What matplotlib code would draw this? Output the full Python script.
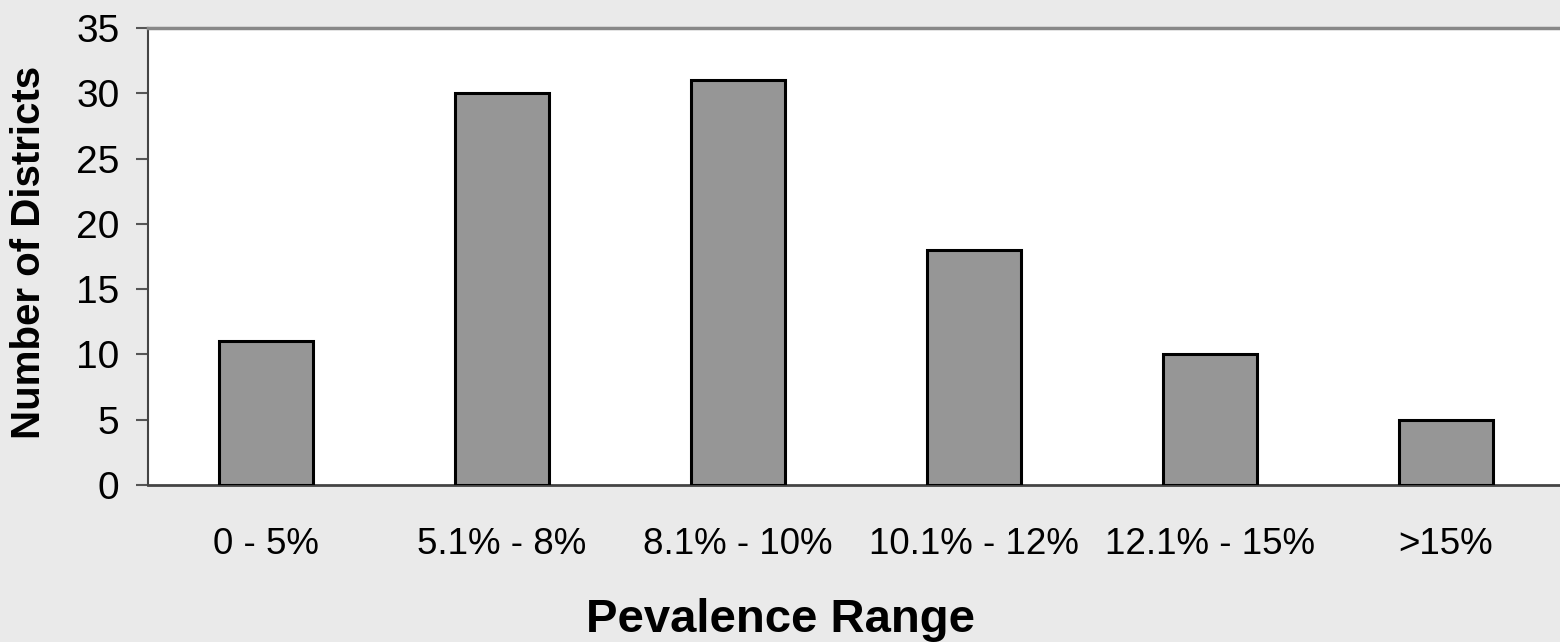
import matplotlib.pyplot as plt

plt.rcParams['font.family'] = ['Liberation Sans', 'DejaVu Sans']

ranges = ['0 - 5%', '5.1% - 8%', '8.1% - 10%', '10.1% - 12%', '12.1% - 15%', '>15%']
districts = [11, 30, 31, 18, 10, 5]

W, H = 1560, 642
fig = plt.figure(figsize=(15.6, 6.42), dpi=100, facecolor='#eaeaea')
ax = fig.add_axes([148 / W, 1 - 485 / H, (1564 - 148) / W, (485 - 28) / H])
ax.set_facecolor('white')

ax.bar(range(len(ranges)), districts, width=0.4, color='#969696',
       edgecolor='black', linewidth=2.2, zorder=3)

ax.set_xlim(-0.5, 5.5)
ax.set_ylim(0, 35)
ax.set_yticks(range(0, 36, 5))
ax.set_xticks(range(len(ranges)))
ax.set_xticklabels(ranges)
ax.tick_params(axis='y', direction='out', length=8.6, width=1.5, color='#555555',
               labelsize=28, pad=12)
ax.tick_params(axis='x', length=0, labelsize=26.5, pad=30)

ax.spines['top'].set_color('#888888')
ax.spines['top'].set_linewidth(2.5)
ax.spines['left'].set_color('#444444')
ax.spines['left'].set_linewidth(1.5)
ax.spines['bottom'].set_color('#444444')
ax.spines['bottom'].set_linewidth(2)
ax.spines['right'].set_visible(False)

fig.text(29 / W, 1 - 252 / H, 'Number of Districts', rotation=90, fontsize=29,
         fontweight='bold', ha='center', va='center')
fig.text(781 / W, 1 - 620 / H, 'Pevalence Range', fontsize=34,
         fontweight='bold', ha='center', va='center')

fig.savefig('out.png', dpi=100, facecolor=fig.get_facecolor())
